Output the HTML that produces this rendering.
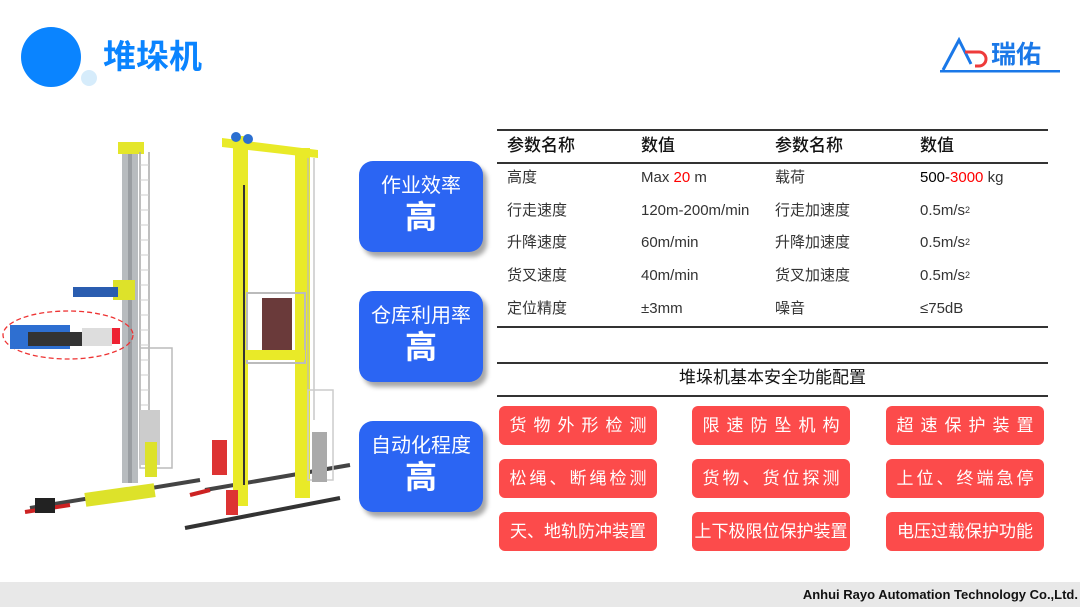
<!DOCTYPE html>
<html><head><meta charset="utf-8"><style>
*{margin:0;padding:0;box-sizing:border-box}
body{width:1080px;height:607px;position:relative;background:#fff;font-family:"Liberation Sans","Noto Sans CJK SC",sans-serif;overflow:hidden}
.a{position:absolute}
.bb{position:absolute;left:359px;width:124px;height:91px;background:#2b65f3;border-radius:14px;box-shadow:4px 5px 5px rgba(0,0,0,.35);color:#fff;text-align:center}
.bb .t{font-size:20px;margin-top:13px;line-height:24px}
.bb .h{font-size:32px;font-weight:bold;line-height:38px}
.tx{position:absolute;font-size:15px;color:#333;line-height:18px;white-space:nowrap}
.tx sup{font-size:9px;line-height:0;position:relative;top:-2px;vertical-align:baseline}
.hd{font-size:17px;color:#111;font-weight:500}
.ln{position:absolute;left:497px;width:551px;height:2px;background:#333}
.rb{position:absolute;width:158px;height:39px;background:#fc4b4b;border-radius:6px;color:#fff;font-size:17px;line-height:39px;text-align:center;white-space:nowrap}
</style></head><body>
<div class="a" style="left:21px;top:27px;width:60px;height:60px;border-radius:50%;background:#0a84ff"></div>
<div class="a" style="left:81px;top:70px;width:16px;height:16px;border-radius:50%;background:#d6ecfb"></div>
<div class="a" style="left:103px;top:36px;font-size:33px;font-weight:bold;color:#0a84ff;line-height:42px">堆垛机</div>
<svg class="a" style="left:935px;top:30px" width="130" height="45" viewBox="0 0 130 45">
<path d="M8 40 L24 10 L36 34" stroke="#1a78e8" stroke-width="3" fill="none"/>
<path d="M30 22 H44 A7 7 0 0 1 44 36 H40" stroke="#ee3b3b" stroke-width="3" fill="none"/>
<text x="56" y="33" font-size="25" fill="#1a78e8" font-family="Noto Sans CJK SC,sans-serif" font-weight="bold">瑞佑</text>
<rect x="5" y="40" width="120" height="2.5" fill="#1a78e8"/>
</svg>
<svg class="a" style="left:0;top:120px" width="360" height="420" viewBox="0 0 360 420">
<rect x="122" y="28" width="16" height="335" fill="#b8bcbf"/><rect x="128" y="28" width="4" height="335" fill="#9a9ea2"/>
<rect x="118" y="22" width="26" height="12" fill="#e4e62a"/>
<g stroke="#aaa" stroke-width="1.5"><line x1="140" y1="32" x2="140" y2="340"/><line x1="149" y1="32" x2="149" y2="340"/></g>
<g stroke="#ccc" stroke-width="1"><path d="M140 45H149M140 60H149M140 75H149M140 90H149M140 105H149M140 120H149M140 135H149M140 150H149M140 165H149M140 180H149M140 195H149M140 210H149M140 225H149M140 240H149M140 255H149M140 270H149M140 285H149M140 300H149M140 315H149M140 330H149"/></g>
<rect x="113" y="160" width="22" height="20" fill="#dde22a"/>
<rect x="73" y="167" width="45" height="10" fill="#2a5db0"/>
<ellipse cx="68" cy="215" rx="65" ry="24" fill="none" stroke="#e33" stroke-width="1.3" stroke-dasharray="5,3"/>
<rect x="10" y="205" width="60" height="24" fill="#2e6fd1"/><rect x="28" y="212" width="60" height="14" fill="#333"/><rect x="82" y="208" width="30" height="18" fill="#ddd"/><rect x="112" y="208" width="8" height="16" fill="#e23"/>
<rect x="140" y="228" width="32" height="120" fill="none" stroke="#bbb" stroke-width="1.5"/>
<rect x="140" y="290" width="20" height="55" fill="#ccc"/>
<rect x="145" y="322" width="12" height="35" fill="#dde22a"/>
<path d="M30 388 L200 360" stroke="#444" stroke-width="4"/><path d="M25 392 L70 385" stroke="#c22" stroke-width="4"/>
<rect x="85" y="368" width="70" height="14" fill="#dde22a" transform="rotate(-8 120 375)"/>
<rect x="35" y="378" width="20" height="15" fill="#222"/>
<path d="M205 370 L350 345" stroke="#444" stroke-width="4"/><path d="M190 375 L210 370" stroke="#c22" stroke-width="4"/>
<rect x="233" y="16" width="15" height="370" fill="#e9ea28"/><rect x="243" y="65" width="2" height="300" fill="#333"/>
<rect x="295" y="28" width="15" height="350" fill="#e9ea28"/>
<path d="M222 18 L318 30 L318 38 L222 27Z" fill="#e9ea28"/>
<circle cx="236" cy="17" r="5" fill="#2b6fd0"/><circle cx="248" cy="19" r="5" fill="#2b6fd0"/>
<g stroke="#bbb" stroke-width="1.2"><line x1="308" y1="38" x2="308" y2="300"/><line x1="314" y1="38" x2="314" y2="300"/></g>
<rect x="247" y="173" width="58" height="70" fill="none" stroke="#bbb" stroke-width="2"/>
<rect x="262" y="178" width="30" height="55" fill="#6a3a3a"/>
<rect x="245" y="230" width="60" height="10" fill="#e9ea28"/>
<rect x="212" y="320" width="15" height="35" fill="#d33"/><rect x="226" y="370" width="12" height="25" fill="#d33"/>
<rect x="308" y="270" width="25" height="90" fill="none" stroke="#ccc" stroke-width="1.5"/><rect x="312" y="312" width="15" height="50" fill="#aaa"/>
<path d="M185 408 L340 378" stroke="#333" stroke-width="4"/>
</svg>
<div class="bb" style="top:161px"><div class="t">作业效率</div><div class="h">高</div></div>
<div class="bb" style="top:291px"><div class="t">仓库利用率</div><div class="h">高</div></div>
<div class="bb" style="top:421px"><div class="t">自动化程度</div><div class="h">高</div></div>
<div class="ln" style="top:129px"></div>
<div class="ln" style="top:162px;height:1.5px"></div>
<div class="ln" style="top:326px"></div>
<div class="ln" style="top:362px"></div>
<div class="ln" style="top:395px"></div>
<div class="tx hd" style="left:507px;top:137px">参数名称</div>
<div class="tx hd" style="left:641px;top:137px">数值</div>
<div class="tx hd" style="left:775px;top:137px">参数名称</div>
<div class="tx hd" style="left:920px;top:137px">数值</div>
<div class="tx" style="left:507px;top:169px">高度</div><div class="tx" style="left:641px;top:169px">Max <span style="color:#f00">20</span> m</div><div class="tx" style="left:775px;top:169px">载荷</div><div class="tx" style="left:920px;top:169px;color:#000">500-<span style="color:#f00">3000</span> <span style="color:#333">kg</span></div>
<div class="tx" style="left:507px;top:202px">行走速度</div><div class="tx" style="left:641px;top:202px">120m-200m/min</div><div class="tx" style="left:775px;top:202px">行走加速度</div><div class="tx" style="left:920px;top:202px">0.5m/s<sup>2</sup></div>
<div class="tx" style="left:507px;top:234px">升降速度</div><div class="tx" style="left:641px;top:234px">60m/min</div><div class="tx" style="left:775px;top:234px">升降加速度</div><div class="tx" style="left:920px;top:234px">0.5m/s<sup>2</sup></div>
<div class="tx" style="left:507px;top:267px">货叉速度</div><div class="tx" style="left:641px;top:267px">40m/min</div><div class="tx" style="left:775px;top:267px">货叉加速度</div><div class="tx" style="left:920px;top:267px">0.5m/s<sup>2</sup></div>
<div class="tx" style="left:507px;top:300px">定位精度</div><div class="tx" style="left:641px;top:300px">±3mm</div><div class="tx" style="left:775px;top:300px">噪音</div><div class="tx" style="left:920px;top:300px">≤75dB</div>
<div class="tx" style="left:497px;width:551px;text-align:center;top:369px;font-size:17px;color:#111">堆垛机基本安全功能配置</div>
<div class="rb" style="left:499px;top:406px;letter-spacing:7px;padding-left:7px">货物外形检测</div>
<div class="rb" style="left:692px;top:406px;letter-spacing:7px;padding-left:7px">限速防坠机构</div>
<div class="rb" style="left:886px;top:406px;letter-spacing:7px;padding-left:7px">超速保护装置</div>
<div class="rb" style="left:499px;top:459px;letter-spacing:3px;padding-left:3px">松绳、断绳检测</div>
<div class="rb" style="left:692px;top:459px;letter-spacing:3px;padding-left:3px">货物、货位探测</div>
<div class="rb" style="left:886px;top:459px;letter-spacing:3px;padding-left:3px">上位、终端急停</div>
<div class="rb" style="left:499px;top:512px">天、地轨防冲装置</div>
<div class="rb" style="left:692px;top:512px">上下极限位保护装置</div>
<div class="rb" style="left:886px;top:512px">电压过载保护功能</div>
<div class="a" style="left:0;top:582px;width:1080px;height:25px;background:#e8e8e8"></div>
<div class="a" style="right:2px;top:587px;font-size:13px;font-weight:bold;color:#111;line-height:16px">Anhui Rayo Automation Technology Co.,Ltd.</div>
</body></html>
